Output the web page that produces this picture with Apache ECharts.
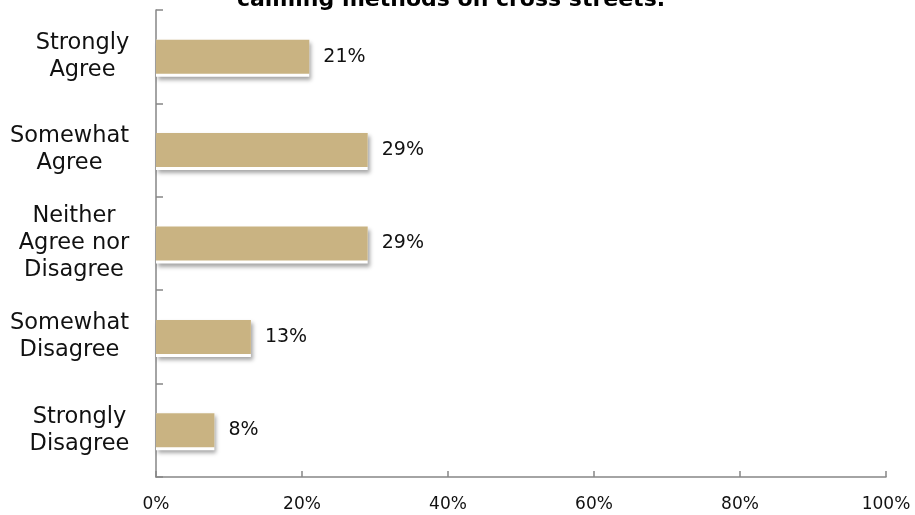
<!DOCTYPE html>
<html>
<head>
<meta charset="utf-8">
<script src="https://cdn.jsdelivr.net/npm/echarts@6/dist/echarts.min.js"></script>
<style>
  html, body { margin: 0; padding: 0; background: #fff; }
  #chart { width: 915px; height: 515px; }
</style>
</head>
<body>
<div id="chart"></div>
<script>
// Survey response categories, top to bottom
const categories = [
  'Strongly\nAgree',
  'Somewhat\nAgree',
  'Neither\nAgree nor\nDisagree',
  'Somewhat\nDisagree',
  'Strongly\nDisagree'
];
// Share of respondents (%)
const shares = [21, 29, 29, 13, 8];
// Percentage axis ticks
const axisMin = 0;
const axisMax = 100;
const axisStep = 20;
const titleLine = 'calming methods on cross streets.';

const FONT = '"DejaVu Sans", sans-serif';
const CAT_SIZE = 22.5;

// Each category label is a block of centred lines, right-aligned against the axis:
// one rich style per label, as wide as its widest line.
const measureCtx = document.createElement('canvas').getContext('2d');
measureCtx.font = CAT_SIZE + 'px ' + FONT;
const catRich = {};
categories.forEach(function (name, i) {
  const widest = Math.max.apply(null, name.split('\n').map(function (line) {
    return measureCtx.measureText(line).width;
  }));
  catRich['c' + i] = {
    width: Math.ceil(widest) + 1,
    align: 'center',
    fontFamily: FONT,
    fontSize: CAT_SIZE,
    lineHeight: 27,
    color: '#111111'
  };
});

const chart = echarts.init(document.getElementById('chart'), null, { renderer: 'canvas' });

chart.setOption({
  backgroundColor: '#ffffff',
  animation: false,
  graphic: [{
    type: 'text',
    x: 451,
    y: 0,
    style: {
      text: titleLine,
      align: 'center',
      verticalAlign: 'middle',
      font: 'bold 22px ' + FONT,
      fill: '#000000'
    }
  }],
  grid: { left: 156, right: 29, top: 10, bottom: 38 },
  xAxis: {
    type: 'value',
    min: axisMin,
    max: axisMax,
    interval: axisStep,
    axisLine: { show: true, lineStyle: { color: '#868686', width: 1.5 } },
    axisTick: { show: true, inside: true, length: 6, lineStyle: { color: '#868686', width: 1.5 } },
    splitLine: { show: false },
    axisLabel: {
      formatter: '{value}%',
      color: '#111111',
      fontFamily: FONT,
      fontSize: 17,
      margin: 19
    }
  },
  yAxis: {
    type: 'category',
    data: categories,
    inverse: true,
    axisLine: { show: true, lineStyle: { color: '#868686', width: 1.5 } },
    axisTick: { show: true, inside: true, length: 7, lineStyle: { color: '#868686', width: 1.5 } },
    axisLabel: {
      align: 'right',
      margin: 26,
      formatter: function (value, index) {
        return value.split('\n').map(function (line) {
          return '{c' + index + '|' + line + '}';
        }).join('\n');
      },
      rich: catRich
    }
  },
  series: [
    {
      // white rim with a soft drop shadow behind each bar
      type: 'bar',
      data: shares,
      barWidth: 37,
      barGap: '-100%',
      z: 2,
      silent: true,
      itemStyle: {
        color: '#ffffff',
        shadowColor: 'rgba(0,0,0,0.35)',
        shadowBlur: 4,
        shadowOffsetX: 2,
        shadowOffsetY: 3
      }
    },
    {
      type: 'bar',
      data: shares,
      barWidth: 34,
      barGap: '-100%',
      z: 3,
      itemStyle: { color: '#C9B382' },
      label: {
        show: true,
        position: 'right',
        distance: 14,
        formatter: '{c}%',
        color: '#111111',
        fontFamily: FONT,
        fontSize: 19
      }
    }
  ]
});
</script>
</body>
</html>
